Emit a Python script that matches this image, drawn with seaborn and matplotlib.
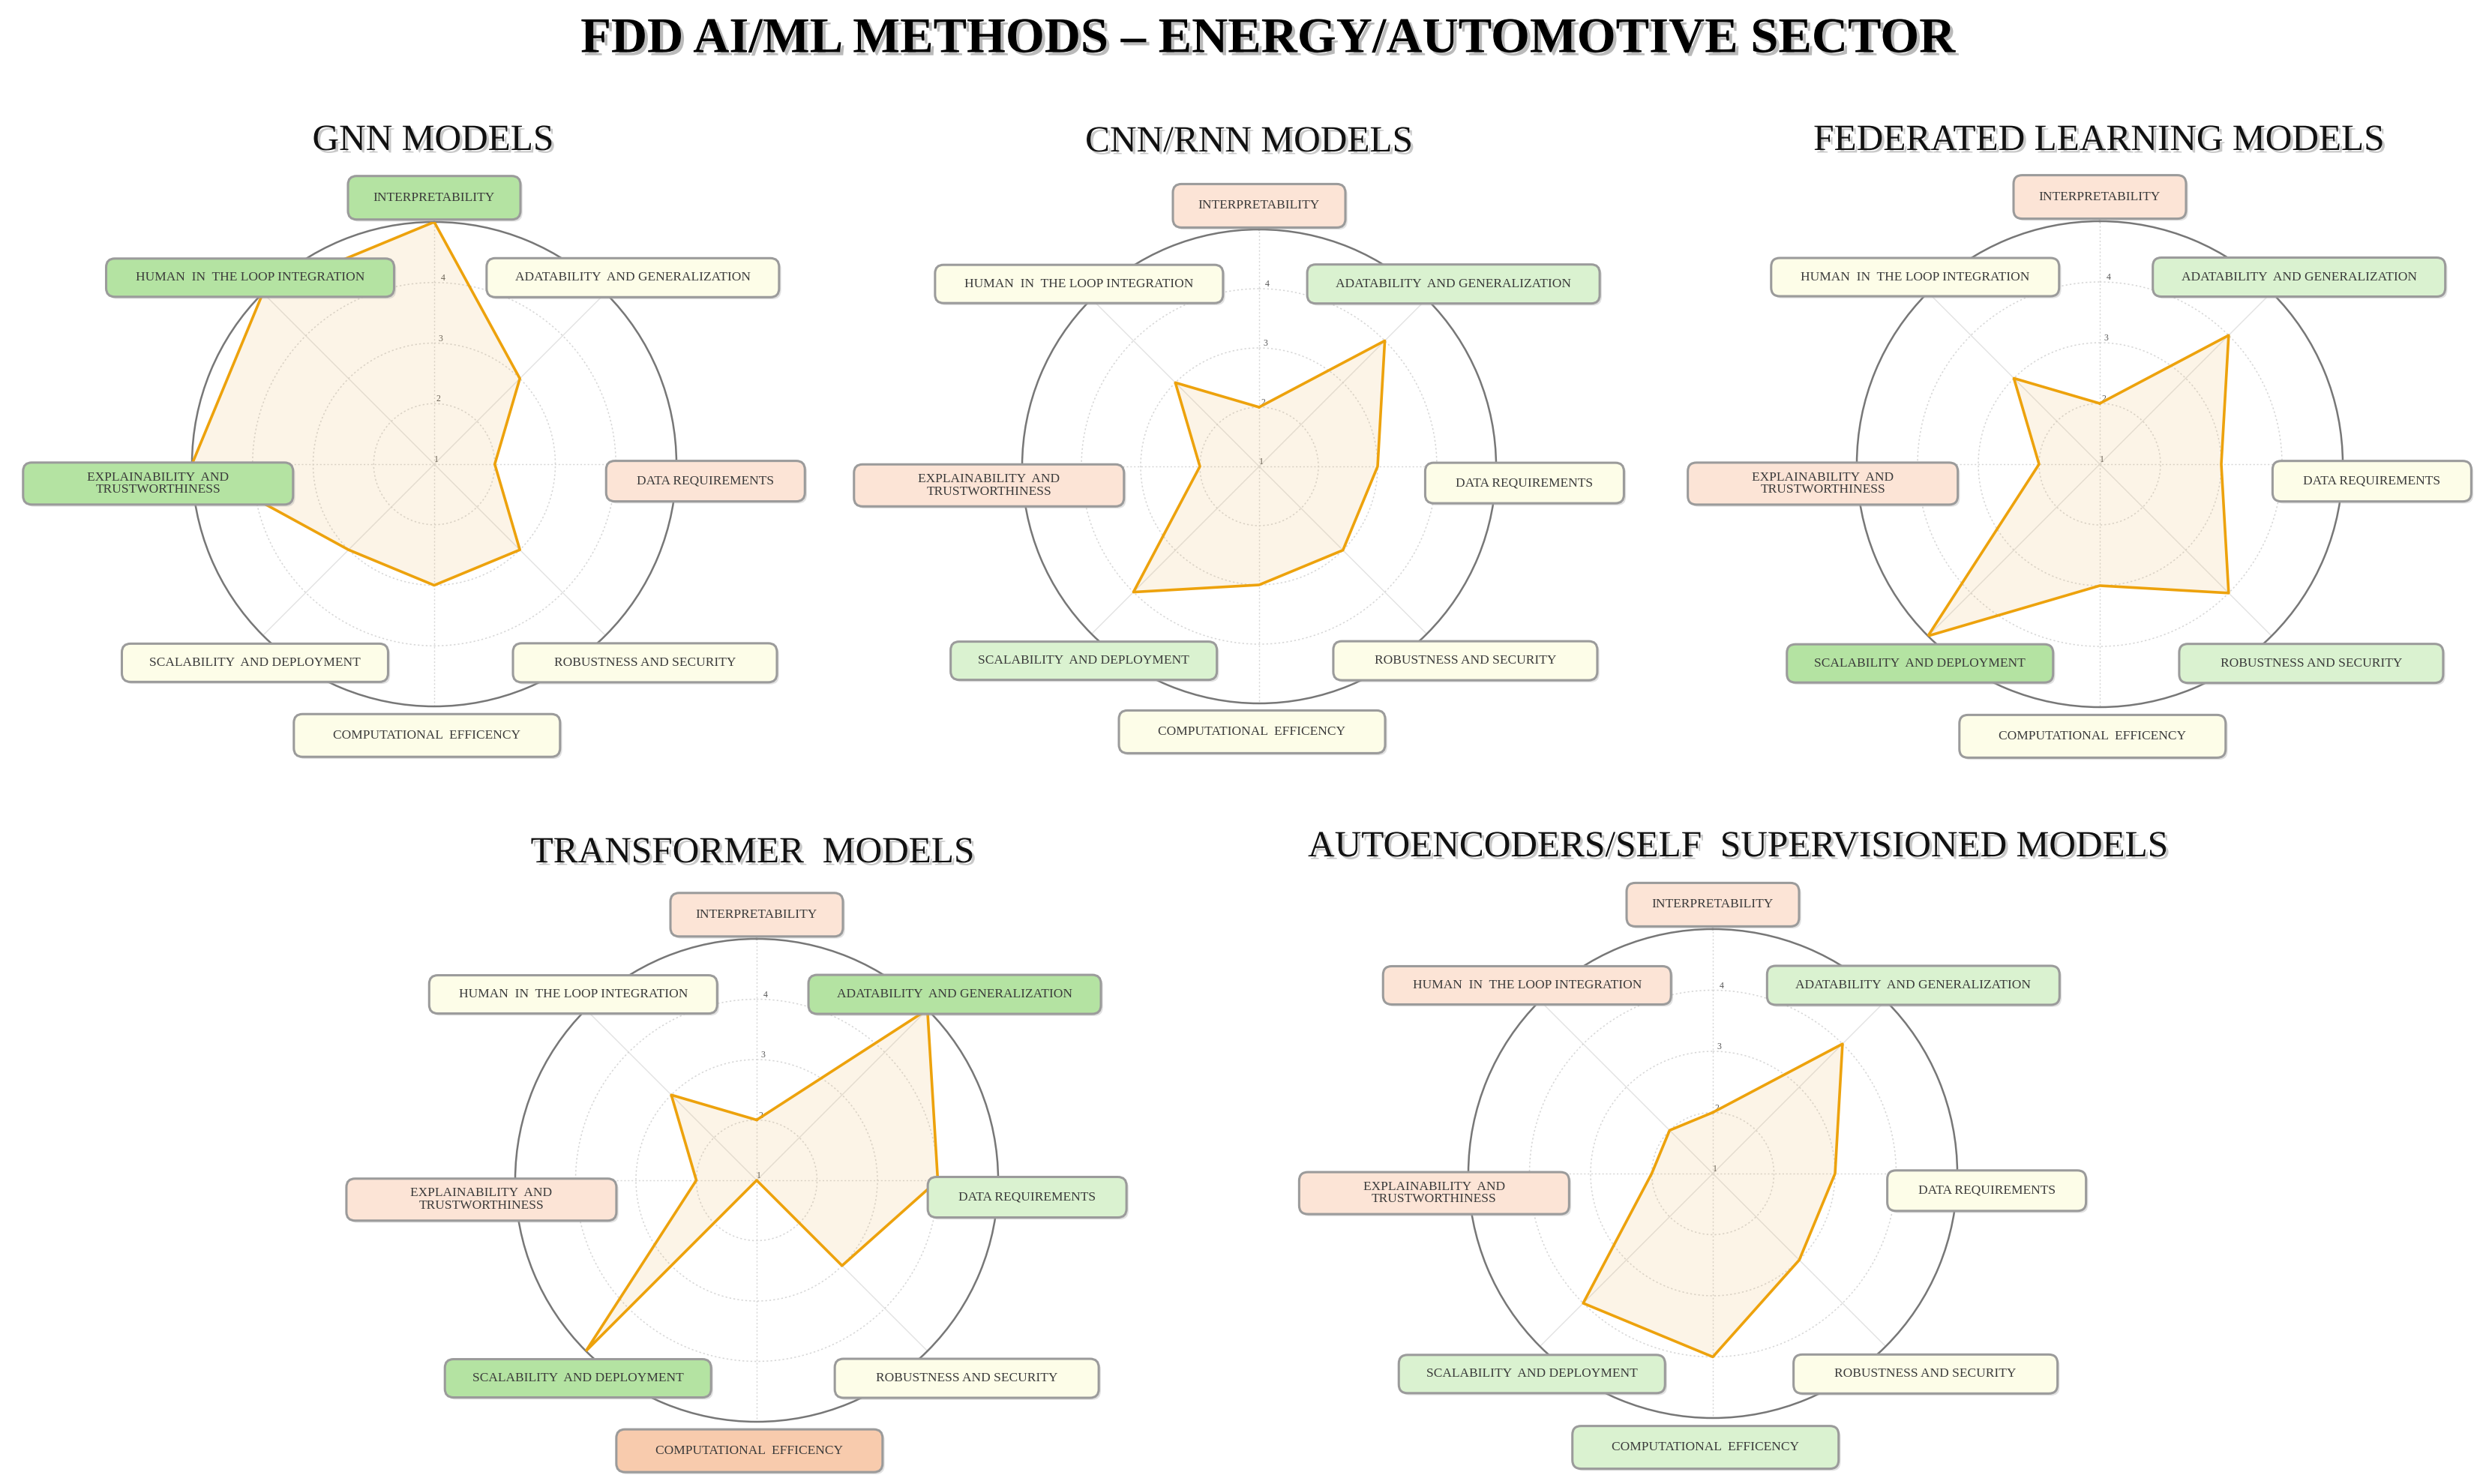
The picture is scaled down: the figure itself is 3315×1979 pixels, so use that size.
import numpy as np
import pandas as pd
import matplotlib
matplotlib.use("Agg")
import matplotlib.pyplot as plt
import matplotlib.patheffects as pe
from matplotlib.patches import FancyBboxPatch
import seaborn as sns

# ---------------- data ----------------
categories = [
    "INTERPRETABILITY",
    "ADATABILITY  AND GENERALIZATION",
    "DATA REQUIREMENTS",
    "ROBUSTNESS AND SECURITY",
    "COMPUTATIONAL  EFFICENCY",
    "SCALABILITY  AND DEPLOYMENT",
    "EXPLAINABILITY  AND\nTRUSTWORTHINESS",
    "HUMAN  IN  THE LOOP INTEGRATION",
]
model_titles = [
    "GNN MODELS",
    "CNN/RNN MODELS",
    "FEDERATED LEARNING MODELS",
    "TRANSFORMER  MODELS",
    "AUTOENCODERS/SELF  SUPERVISIONED MODELS",
]
gnn_scores = [5, 3, 2, 3, 3, 3, 5, 5]
cnn_rnn_scores = [2, 4, 3, 3, 3, 4, 2, 3]
federated_scores = [2, 4, 3, 4, 3, 5, 2, 3]
transformer_scores = [2, 5, 4, 3, 1, 5, 2, 3]
autoencoder_scores = [2, 4, 3, 3, 4, 4, 2, 2]
radial_ticks = [1, 2, 3, 4]
radial_tick_labels = ["1", "2", "3", "4"]
main_title = "FDD AI/ML METHODS \u2013 ENERGY/AUTOMOTIVE SECTOR"

all_scores = [gnn_scores, cnn_rnn_scores, federated_scores,
              transformer_scores, autoencoder_scores]

# ---------------- style ----------------
sns.set_theme(style="white")
plt.rcParams["font.family"] = ["Liberation Serif", "DejaVu Serif"]

score_colors = {1: "#F8CBAD", 2: "#FCE4D6", 3: "#FDFDE8", 4: "#DAF2D0", 5: "#B4E3A2"}
line_color = "#EDA20C"
fill_color = "#EDB458"

W, H = 3316, 1979
fig = plt.figure(figsize=(W / 100, H / 100), dpi=100)

# panel centres / radii in pixels (layout)
panels = [
    (579, 619, 323, 577, 188),
    (1679, 622, 316, 1665, 190),
    (2800, 619, 324, 2798, 188),
    (1009, 1574, 322, 1003, 1138),
    (2284, 1565, 326, 2316, 1130),
]
# label box positions relative to centre (units of radius, y downwards)
label_offsets = [(0.0, -1.10), (0.82, -0.77), (1.12, 0.07), (0.87, 0.82),
                 (-0.03, 1.12), (-0.74, 0.82), (-1.14, 0.08), (-0.76, -0.77)]
# label box sizes in pixels (layout)
box_sizes = [(230, 58), (390, 52), (265, 54), (352, 52),
             (355, 57), (355, 51), (360, 56), (384, 51)]

n = len(categories)
angles = np.linspace(0, 2 * np.pi, n, endpoint=False)

shadow = [pe.SimplePatchShadow(offset=(2.5, -2.5), shadow_rgbFace="#888888", alpha=0.45), pe.Normal()]
box_shadow = [pe.SimplePatchShadow(offset=(2, -2), shadow_rgbFace="#aaaaaa", alpha=0.35), pe.Normal()]

for (cx, cy, R, tx, ty), scores, title in zip(panels, all_scores, model_titles):
    ax = fig.add_axes([(cx - R) / W, 1 - (cy + R) / H, 2 * R / W, 2 * R / H], projection="polar")
    ax.set_theta_zero_location("N")
    ax.set_theta_direction(-1)
    ax.set_facecolor("white")

    df = pd.DataFrame({
        "theta": np.append(angles, 2 * np.pi),
        "score": scores + [scores[0]],
    })
    ax.fill(df["theta"], df["score"], color=fill_color, alpha=0.14, zorder=1, lw=0)
    sns.lineplot(data=df, x="theta", y="score", ax=ax, sort=False, estimator=None,
                 color=line_color, linewidth=2.6, zorder=3)

    ax.set_ylim(1, 5)
    ax.set_xticks(angles)
    ax.set_xticklabels([])
    ax.set_yticks(radial_ticks)
    ax.set_yticklabels(radial_tick_labels, fontsize=8.5, color="#555555")
    ax.set_rlabel_position(2)
    ax.set_xlabel("")
    ax.set_ylabel("")

    ax.yaxis.grid(True, color="#d6d6d6", linestyle=(0, (1.5, 2)), linewidth=1.1)
    ax.xaxis.grid(True, color="#e2e2e2", linestyle="-", linewidth=1.0)
    for i, gl in enumerate(ax.xaxis.get_gridlines()):
        if i % 2 == 0:
            gl.set_linestyle((0, (1.5, 2)))
            gl.set_color("#d6d6d6")

    ax.spines["polar"].set_color("#777777")
    ax.spines["polar"].set_linewidth(1.8)

    for cat, sc, (dx, dy), (bw, bh) in zip(categories, scores, label_offsets, box_sizes):
        x0 = 0.5 + 0.5 * dx
        y0 = 0.5 - 0.5 * dy
        w = bw / (2 * R)
        h = bh / (2 * R)
        box = FancyBboxPatch((x0 - w / 2, y0 - h / 2), w, h,
                             boxstyle="round,pad=0,rounding_size=0.018",
                             transform=ax.transAxes, fc=score_colors[sc], ec="#9b9b9b",
                             lw=2.2, zorder=5, clip_on=False, path_effects=box_shadow)
        ax.add_patch(box)
        ax.text(x0, y0, cat, transform=ax.transAxes,
                ha="center", va="center", fontsize=12.5, color="#3a3a3a",
                linespacing=1.05, zorder=6, clip_on=False)

    fig.text(tx / W, 1 - ty / H, title, ha="center", va="center",
             fontsize=35.5, color="#111111", path_effects=shadow)

fig.text(1690 / W, 1 - 53 / H, main_title, ha="center", va="center",
         fontsize=48, fontweight="bold", color="#000000",
         path_effects=[pe.SimplePatchShadow(offset=(3, -3), shadow_rgbFace="#777777", alpha=0.5), pe.Normal()])

fig.savefig("out.png", dpi=100, facecolor="white")
